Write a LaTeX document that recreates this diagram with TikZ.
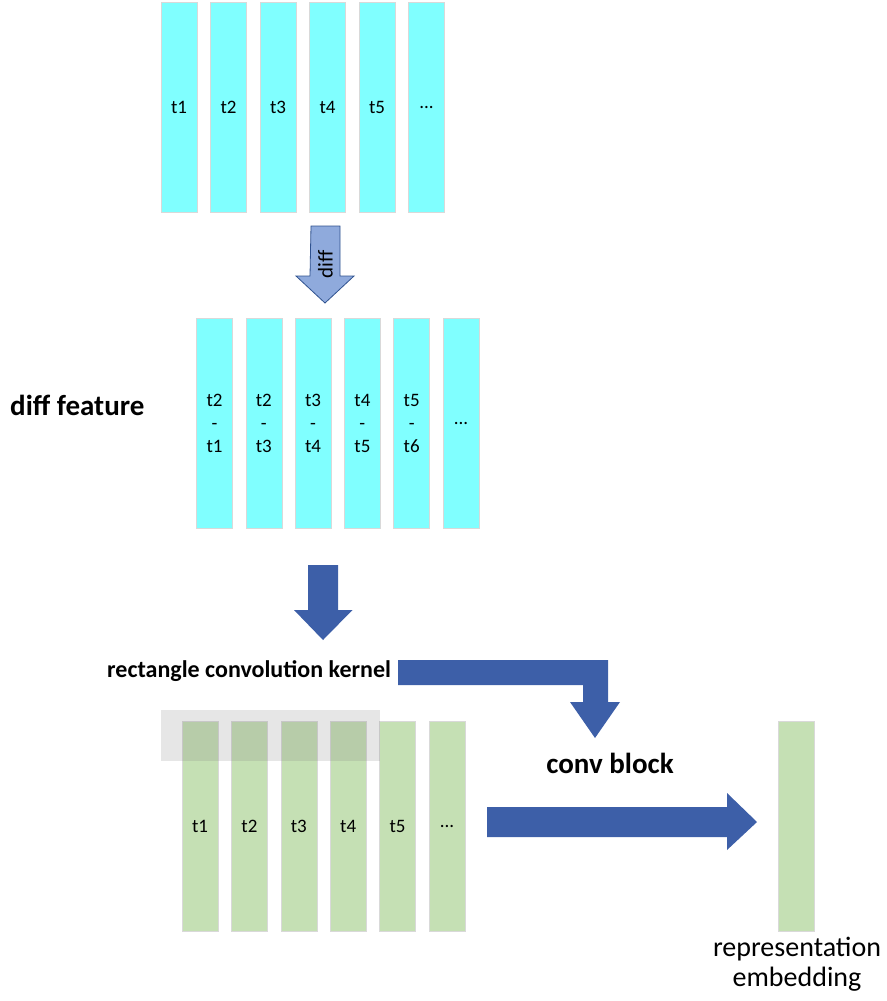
\documentclass[tikz,border=0pt]{standalone}
\usepackage{fontspec}
\setmainfont{Carlito}
\usepackage{tikz}

\definecolor{rawfill}{HTML}{80FFFF}
\definecolor{convfill}{HTML}{C5E0B4}
\definecolor{barline}{HTML}{D9D9D9}
\definecolor{lightblue}{HTML}{8FAADC}
\definecolor{darkblue}{HTML}{3D5FA8}
\definecolor{blueline}{HTML}{2F528F}

\newcommand{\etcdots}{...}

\tikzset{
  bar/.style={draw=barline, line width=0.6pt, minimum width=36pt,
    minimum height=210pt, inner sep=0pt, align=center,
    font=\fontsize{19}{23}\selectfont},
  rawbar/.style={bar, fill=rawfill},
  convbar/.style={bar, fill=convfill},
  kernelbox/.style={fill=gray, fill opacity=0.2, minimum width=219pt,
    minimum height=51pt, inner sep=0pt},
  lightarrow/.style={fill=lightblue, draw=blueline, line width=0.8pt},
  darkarrow/.style={fill=darkblue, draw=none},
  title/.style={font=\bfseries\fontsize{29}{33}\selectfont, inner sep=0pt}
}

\begin{document}
\begin{tikzpicture}[x=1pt,y=-1pt]
\useasboundingbox (0,0) rectangle (886,1001);

% input frames
\foreach \i/\t in {0/t1,1/t2,2/t3,3/t4,4/t5,5/\etcdots}
  \node[rawbar] (a\i) at (179+49.5*\i,107) {\t};

% diff arrow
\coordinate (d0) at (311,226);
\draw[lightarrow] (d0) -- ++(29,0) -- ++(0,50) -- ++(14,0) -- ++(-29,27)
  -- ++(-29,-27) -- ++(14,0) -- cycle;
\node[rotate=90, font=\fontsize{21}{24}\selectfont, inner sep=0pt] (dl) at (325.5,264) {diff};

% diff feature
\foreach \i/\t in {0/{t2\\-\\t1},1/{t2\\-\\t3},2/{t3\\-\\t4},3/{t4\\-\\t5},4/{t5\\-\\t6},5/\etcdots}
  \node[rawbar] (b\i) at (214.5+49.3*\i,423.5) {\t};
\node[title, anchor=west] (df) at (10,405) {diff feature};

% down arrow
\coordinate (d1) at (308,565);
\draw[darkarrow] (d1) -- ++(30,0) -- ++(0,45) -- ++(14.5,0) -- ++(-29.5,30)
  -- ++(-29,-30) -- ++(14,0) -- cycle;

\node[font=\bfseries\fontsize{24}{28}\selectfont, inner sep=0pt, anchor=west] (rk) at (107,671) {rectangle convolution kernel};

% bent arrow to conv block
\coordinate (d2) at (398,660);
\draw[darkarrow] (d2) -- ++(210,0) -- ++(0,42) -- ++(12,0) -- ++(-25,36)
  -- ++(-25,-36) -- ++(13,0) -- ++(0,-17) -- ++(-185,0) -- cycle;

% conv input
\foreach \i/\t in {0/t1,1/t2,2/t3,3/t4,4/t5,5/\etcdots}
  \node[convbar] (c\i) at (200+49.4*\i,826) {\t};
\node[kernelbox] (k) at (270.5,735.5) {};

\node[title] (cb) at (610,763) {conv block};

% right arrow
\coordinate (d3) at (487,807);
\draw[darkarrow] (d3) -- ++(240,0) -- ++(0,-14) -- ++(30,29) -- ++(-30,28)
  -- ++(0,-13) -- ++(-240,0) -- cycle;

% embedding
\node[convbar] (e) at (796.5,826) {};
\node[font=\fontsize{28}{30}\selectfont, align=center, inner sep=0pt, anchor=north] (el) at (797,937) {representation\\embedding};
\end{tikzpicture}
\end{document}
